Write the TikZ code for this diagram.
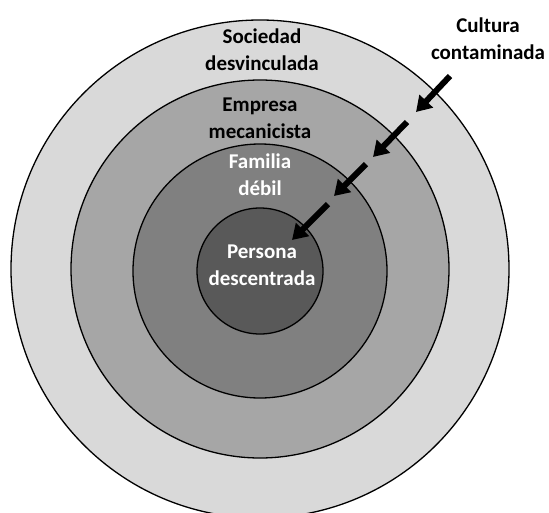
\documentclass[tikz,border=0pt]{standalone}
\usepackage{fontspec}
\setmainfont{Carlito}
\usetikzlibrary{arrows.meta}
\definecolor{grisSoc}{HTML}{D9D9D9}
\definecolor{grisEmp}{HTML}{A6A6A6}
\definecolor{grisFam}{HTML}{808080}
\definecolor{grisPer}{HTML}{595959}

\begin{document}
\begin{tikzpicture}[x=1pt,y=-1pt,
		ring/.style={circle,draw,line width=1.3pt,inner sep=0pt},
		ringtext/.style={font=\bfseries\fontsize{21}{26.6}\selectfont,align=center,inner sep=0pt},
		push/.style={line width=6pt,-{Triangle[width=18pt,length=15pt]}},
		]
		\clip (0,0) rectangle (549,512);
		% anillos
		\node[ring,fill=grisSoc,minimum size=498pt] (soc) at (260,269) {};
		\node[ring,fill=grisEmp,minimum size=378pt] (emp) at (260,269) {};
		\node[ring,fill=grisFam,minimum size=254pt] (fam) at (260,271) {};
		\node[ring,fill=grisPer,minimum size=126pt] (per) at (260,271) {};
		% textos
		\node[ringtext] (socT) at (262,50) {Sociedad\\desvinculada};
		\node[ringtext] (empT) at (260,118) {Empresa\\mecanicista};
		\node[ringtext,text=white] (famT) at (260,175) {Familia\\débil};
		\node[ringtext,text=white] (perT) at (262,265) {Persona\\descentrada};
		\node[ringtext] (cult) at (488,39) {Cultura\\contaminada};
		% flechas
		\coordinate (f1a) at (450,76);
		\coordinate (f1b) at (416,112);
		\coordinate (f2a) at (407,122);
		\coordinate (f2b) at (373,157);
		\coordinate (f3a) at (366,164);
		\coordinate (f3b) at (334,196);
		\coordinate (f4a) at (328,204);
		\coordinate (f4b) at (292,240);
		\draw[push] (f1a) -- (f1b);
		\draw[push] (f2a) -- (f2b);
		\draw[push] (f3a) -- (f3b);
		\draw[push] (f4a) -- (f4b);
	\end{tikzpicture}
\end{document}
